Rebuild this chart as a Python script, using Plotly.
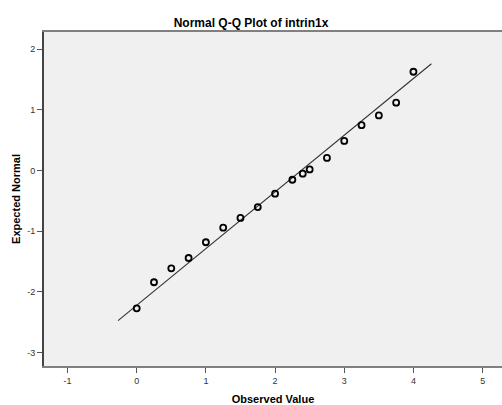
import plotly.graph_objects as go

# Observed values of intrin1x and their expected normal scores
observed = [0.0, 0.25, 0.5, 0.75, 1.0, 1.25, 1.5, 1.75, 2.0, 2.25,
            2.4, 2.5, 2.75, 3.0, 3.25, 3.5, 3.75, 4.0]
expected = [-2.27, -1.84, -1.61, -1.44, -1.18, -0.94, -0.78, -0.60, -0.38, -0.15,
            -0.05, 0.02, 0.21, 0.49, 0.75, 0.91, 1.12, 1.63]

# Reference line: y = (x - mean) / sd
sample_mean = 2.375
sample_sd = 1.07
line_x = [-0.27, 4.26]
line_y = [(x - sample_mean) / sample_sd for x in line_x]

x_ticks = [-1, 0, 1, 2, 3, 4, 5]
y_ticks = [-3, -2, -1, 0, 1, 2]

fig = go.Figure()
fig.add_trace(go.Scatter(
    x=line_x, y=line_y, mode="lines",
    line=dict(color="#333333", width=1.1),
    showlegend=False, hoverinfo="skip",
))
fig.add_trace(go.Scatter(
    x=observed, y=expected, mode="markers",
    marker=dict(symbol="circle-open", size=6, color="#000000",
                line=dict(width=1.8, color="#000000")),
    showlegend=False,
))

fig.update_layout(
    width=502, height=405,
    margin=dict(l=44, r=0, t=32, b=39),
    paper_bgcolor="#ffffff",
    plot_bgcolor="#f0f0f0",
    font=dict(family="Liberation Sans, Arial, sans-serif", color="#000000"),
    title=dict(text="<b>Normal Q-Q Plot of intrin1x</b>", x=0.5, xanchor="center",
               y=1 - 23 / 405, yanchor="middle",
               font=dict(size=12, color="#000000")),
    xaxis=dict(
        range=[-1.34, 5.28], tickvals=x_ticks, ticktext=[str(v) for v in x_ticks],
        ticks="outside", ticklen=5,
        tickcolor="#555555", tickwidth=1,
        tickfont=dict(size=9, color="#333333"),
        showgrid=False, zeroline=False,
        showline=True, linecolor="#808080", linewidth=2, mirror=True,
        title=dict(text="<b>Observed Value</b>", font=dict(size=11), standoff=12),
    ),
    yaxis=dict(
        range=[-3.22, 2.285], tickvals=y_ticks, ticktext=[str(v) for v in y_ticks],
        ticks="outside", ticklen=5,
        tickcolor="#555555", tickwidth=1,
        tickfont=dict(size=9, color="#333333"),
        showgrid=False, zeroline=False,
        showline=True, linecolor="#444444", linewidth=2,
        title=dict(text="<b>Expected Normal</b>", font=dict(size=11), standoff=4),
    ),
)

fig.write_html("out.html")
